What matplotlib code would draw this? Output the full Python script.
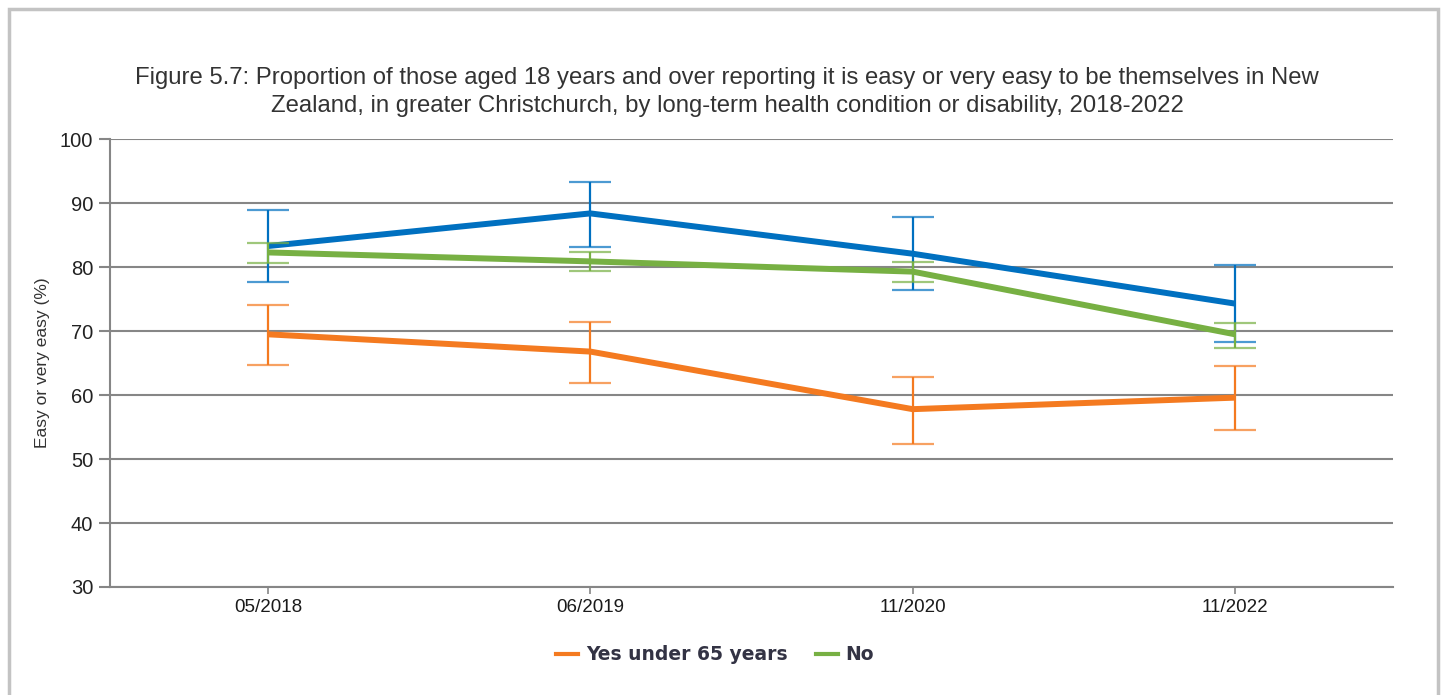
import matplotlib
matplotlib.use('Agg')
import matplotlib.pyplot as plt
from matplotlib.patches import Rectangle
from matplotlib.lines import Line2D

# survey waves
periods = ['05/2018', '06/2019', '11/2020', '11/2022']

# Yes under 65 years
under65 = [69.5, 66.8, 57.8, 59.6]
under65_lo = [64.7, 61.9, 52.4, 54.6]
under65_hi = [74.1, 71.5, 62.9, 64.5]

# third series (not named in the legend)
over65 = [83.3, 88.4, 82.1, 74.3]
over65_lo = [77.6, 83.1, 76.4, 68.3]
over65_hi = [89.0, 93.3, 87.8, 80.3]

# No
no = [82.3, 80.9, 79.3, 69.5]
no_lo = [80.7, 79.4, 77.7, 67.3]
no_hi = [83.7, 82.4, 80.8, 71.2]

yticks = [30, 40, 50, 60, 70, 80, 90, 100]

ORANGE = '#f47a20'
BLUE = '#0070c0'
GREEN = '#77b043'
GRID = '#868686'

plt.rcParams['font.family'] = ['Liberation Sans', 'DejaVu Sans']

fig = plt.figure(figsize=(14.44, 6.95), dpi=100)
ax = fig.add_axes([110 / 1444, 1 - 587 / 695, (1393 - 110) / 1444, (587 - 139.2) / 695])

x = list(range(len(periods)))


def draw(vals, lo, hi, color, z):
    err = [[v - l for v, l in zip(vals, lo)], [h - v for v, h in zip(vals, hi)]]
    line, caps, bars = ax.errorbar(x, vals, yerr=err, color=color, lw=4.3,
                                   elinewidth=1.6, capsize=15, capthick=1.6,
                                   zorder=z)
    for c in caps:
        c.set_alpha(0.7)
    line.set_solid_capstyle('butt')


draw(under65, under65_lo, under65_hi, ORANGE, 3)
draw(over65, over65_lo, over65_hi, BLUE, 4)
draw(no, no_lo, no_hi, GREEN, 5)

ax.set_xlim(-0.49, 3.49)
ax.set_ylim(30, 100)
ax.set_yticks(yticks)
ax.set_xticks(x)
ax.set_xticklabels(periods, fontsize=13.5, color='#1a1a1a')
ax.tick_params(axis='y', labelsize=14.5, colors=GRID, labelcolor='#222222',
               length=8, width=1.5, pad=4)
ax.tick_params(axis='x', colors=GRID, labelcolor='#1a1a1a', length=5,
               width=1.2, pad=4)
ax.grid(axis='y', color=GRID, lw=1.5)
ax.set_axisbelow(True)
for s in ['top', 'right']:
    ax.spines[s].set_visible(False)
for s in ['left', 'bottom']:
    ax.spines[s].set_color(GRID)
    ax.spines[s].set_linewidth(1.5)

ax.set_ylabel('Easy or very easy (%)', fontsize=12.5, color='#333333', labelpad=7)

fig.text(727 / 1444, 1 - 92 / 695,
         'Figure 5.7: Proportion of those aged 18 years and over reporting it is easy or very easy to be themselves in New\n'
         'Zealand, in greater Christchurch, by long-term health condition or disability, 2018-2022',
         ha='center', va='center', fontsize=17.2, color='#333333', linespacing=1.3)

handles = [Line2D([], [], color=ORANGE, lw=3), Line2D([], [], color=GREEN, lw=3)]
leg = fig.legend(handles, ['Yes under 65 years', 'No'], loc='center',
                 bbox_to_anchor=(715 / 1444, 1 - 655 / 695), ncol=2,
                 frameon=False, handlelength=1.2, handletextpad=0.4, columnspacing=1.5,
                 prop={'family': 'DejaVu Sans', 'weight': 'bold', 'size': 13.5})
for t in leg.get_texts():
    t.set_color('#333344')

fig.patches.append(Rectangle((8.5 / 1444, -0.1), (1437.5 - 8.5) / 1444, 1.1 - 9.5 / 695,
                             transform=fig.transFigure, fill=False,
                             edgecolor='#c3c3c3', lw=2.5))

fig.savefig('out.png', dpi=100)
